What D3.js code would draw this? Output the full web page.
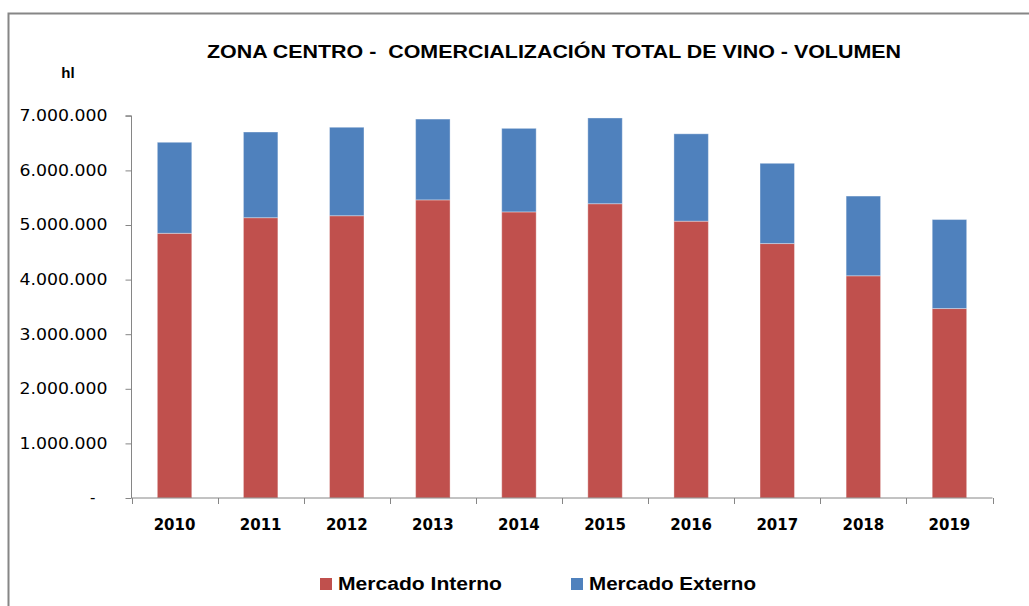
<!DOCTYPE html>
<html><head><meta charset="utf-8">
<script src="https://cdn.jsdelivr.net/npm/d3@7"></script>
<style>body{margin:0;background:#fff;}svg{display:block;}</style>
</head><body>
<svg id="c" width="1029" height="606"></svg>
<script>
const years = ["2010","2011","2012","2013","2014","2015","2016","2017","2018","2019"];
const interno = [4848000,5134000,5170000,5460000,5240000,5390000,5070000,4660000,4070000,3470000];
const externo = [1667000,1569000,1620000,1480000,1530000,1570000,1600000,1470000,1460000,1630000];
const yTicks = [0,1000000,2000000,3000000,4000000,5000000,6000000,7000000];
const seriesNames = ["Mercado Interno","Mercado Externo"];
const colors = ["#C0504D","#4F81BD"];

const svg = d3.select("#c");
const W = 1029, H = 606;
svg.append("rect").attr("x",0).attr("y",0).attr("width",W).attr("height",H).attr("fill","#fff");
// frame
svg.append("path").attr("d","M8.5,"+H+" L8.5,13.5 L"+W+",13.5").attr("fill","none").attr("stroke","#868686").attr("stroke-width",2);

const x = d3.scaleBand().domain(years).range([131.5,992.5]).paddingInner(0.6).paddingOuter(0.3);
const y = d3.scaleLinear().domain([0,7000000]).range([498,115.8]);

const table = years.map((yr,i)=>({year:yr, "Mercado Interno":interno[i], "Mercado Externo":externo[i]}));
const stacked = d3.stack().keys(seriesNames)(table);

const loc = d3.formatLocale({decimal:",",thousands:".",grouping:[3],currency:["",""]});
const fmt = loc.format(",.0f");

// y axis
const yAxis = d3.axisLeft(y).tickValues(yTicks).tickSize(6).tickPadding(18)
  .tickFormat(d=> d===0 ? "-" : fmt(d));
const gy = svg.append("g").attr("transform","translate(131.5,0)").call(yAxis);
gy.select(".domain").attr("stroke","#868686").attr("d","M-6,115.8H0V498");
gy.selectAll(".tick line").attr("stroke","#868686");
gy.selectAll(".tick text").attr("font-family","'DejaVu Sans', Verdana, sans-serif").attr("font-size",15).attr("fill","#000");
gy.selectAll(".tick").filter(d=>d!==0).select("text").attr("textLength",88).attr("lengthAdjust","spacingAndGlyphs");
gy.selectAll(".tick").filter(d=>d===0).select("text").attr("dx",-12);

// bars
svg.append("g").selectAll("g").data(stacked).join("g")
  .attr("fill",(d,i)=>colors[i])
  .selectAll("rect").data(d=>d).join("rect")
  .attr("x",d=>x(d.data.year))
  .attr("y",d=>y(d[1]))
  .attr("width",x.bandwidth())
  .attr("height",d=>y(d[0])-y(d[1]))
  .attr("stroke","rgba(255,255,255,0.35)").attr("stroke-width",1);

// x axis
const xb = d3.scaleLinear().domain([0,years.length]).range([131.5,992.5]);
const gx = svg.append("g").attr("transform","translate(0,498)");
gx.append("line").attr("x1",131.5).attr("x2",992.5).attr("y1",0).attr("y2",0).attr("stroke","#868686");
gx.selectAll("line.t").data(d3.range(years.length+1)).join("line").attr("class","t")
  .attr("x1",d=>Math.round(xb(d))+0.5).attr("x2",d=>Math.round(xb(d))+0.5).attr("y1",0).attr("y2",6).attr("stroke","#868686");
gx.selectAll("text").data(years).join("text")
  .attr("x",d=>x(d)+x.bandwidth()/2).attr("y",32)
  .attr("text-anchor","middle").attr("font-family","'DejaVu Sans', Verdana, sans-serif")
  .attr("font-weight","bold").attr("font-size",15).attr("fill","#000").text(d=>d);

// title
svg.append("text").attr("x",554).attr("y",58).attr("text-anchor","middle")
  .attr("font-family","'Liberation Sans Narrow','Liberation Sans', Arial, sans-serif").attr("font-weight","bold")
  .attr("font-size",19).attr("textLength",694).attr("lengthAdjust","spacingAndGlyphs")
  .attr("xml:space","preserve").style("white-space","pre")
  .text("ZONA CENTRO -  COMERCIALIZACIÓN TOTAL DE VINO - VOLUMEN");

// unit
svg.append("text").attr("x",68).attr("y",78).attr("text-anchor","middle")
  .attr("font-family","'Liberation Sans', Arial, sans-serif").attr("font-weight","bold").attr("font-size",15).text("hl");

// legend
const legX = [320,571];
const lg = svg.append("g");
seriesNames.forEach((n,i)=>{
  lg.append("rect").attr("x",legX[i]).attr("y",578).attr("width",12).attr("height",12).attr("fill",colors[i]);
  lg.append("text").attr("x",legX[i]+18).attr("y",590)
    .attr("font-family","'Liberation Sans', Arial, sans-serif").attr("font-weight","bold").attr("font-size",18)
    .attr("textLength",i===0?164:167).attr("lengthAdjust","spacingAndGlyphs").text(n);
});
</script>
</body></html>
